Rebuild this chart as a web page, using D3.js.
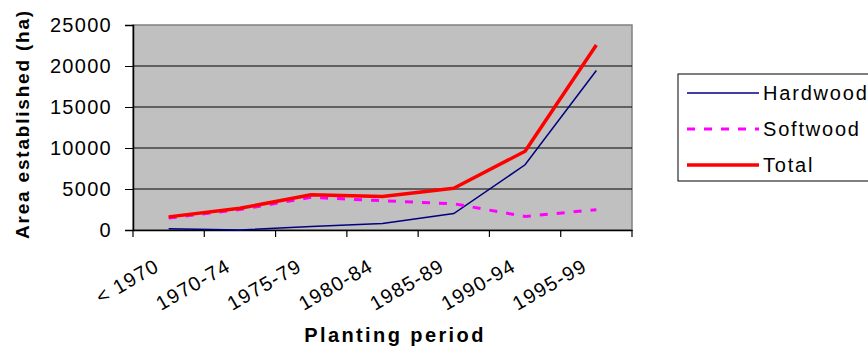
<!DOCTYPE html>
<html>
<head>
<meta charset="utf-8">
<script src="https://cdn.jsdelivr.net/npm/d3@7/dist/d3.min.js"></script>
<style>
html,body{margin:0;padding:0;background:#fff;}
svg{display:block;font-family:"Liberation Sans",Arial,sans-serif;}
</style>
</head>
<body>
<svg id="chart" width="868" height="347"></svg>
<script>
const categories = ["< 1970","1970-74","1975-79","1980-84","1985-89","1990-94","1995-99"];
const hardwood = [160, 0, 440, 800, 2000, 7950, 19450];
const softwood = [1450, 2500, 3980, 3570, 3200, 1650, 2480];
const total = [1600, 2650, 4300, 4080, 5100, 9600, 22550];
const yTicks = [0, 5000, 10000, 15000, 20000, 25000];
const seriesNames = ["Hardwood","Softwood","Total"];

const svg = d3.select("#chart");
const pLeft = 133, pRight = 632, pTop = 25, pBottom = 230;

const x = d3.scaleBand().domain(categories).range([pLeft, pRight]);
const y = d3.scaleLinear().domain([0, 25000]).range([pBottom, pTop]);

svg.append("rect").attr("x", pLeft).attr("y", pTop).attr("width", pRight-pLeft).attr("height", pBottom-pTop)
  .attr("fill", "#c0c0c0").attr("stroke", "#808080").attr("stroke-width", 1.5);

svg.append("g").selectAll("line").data(yTicks.filter(d=>d>0 && d<25000)).join("line")
  .attr("x1", pLeft).attr("x2", pRight).attr("y1", d=>y(d)).attr("y2", d=>y(d))
  .attr("stroke", "#000").attr("stroke-width", 1);

const yAxis = svg.append("g").attr("transform", `translate(${pLeft},0)`)
  .call(d3.axisLeft(y).tickValues(yTicks).tickSize(8).tickPadding(13).tickFormat(d3.format("d")));
yAxis.select(".domain").attr("stroke", "#000").attr("stroke-width", 1.5);
yAxis.selectAll(".tick line").attr("stroke", "#000");
yAxis.selectAll(".tick text").attr("font-size", 20).attr("letter-spacing", 1.3).attr("fill", "#000")
  .attr("font-family", "Liberation Sans, Arial, sans-serif");

const xAxis = svg.append("g").attr("transform", `translate(0,${pBottom})`)
  .call(d3.axisBottom(x).tickSize(0).tickFormat(""));
xAxis.select(".domain").attr("stroke", "#000").attr("stroke-width", 1.5);
const bounds = categories.map(c => x(c)).concat([pRight]);
xAxis.append("g").selectAll("line").data(bounds).join("line")
  .attr("x1", d=>d).attr("x2", d=>d).attr("y1", 0).attr("y2", 7).attr("stroke", "#000").attr("stroke-width", 1.2);
xAxis.append("g").selectAll("text").data(categories).join("text")
  .attr("transform", d => `translate(${x(d)+x.bandwidth()/2-8},${40}) rotate(-30)`)
  .attr("text-anchor", "end").attr("font-size", 20).attr("letter-spacing", 1.2).attr("fill", "#000")
  .text(d => d);

const cx = d => x(d) + x.bandwidth()/2;
const line = d3.line().x((d,i)=>cx(categories[i])).y(d=>y(d));
svg.append("path").datum(hardwood).attr("d", line).attr("fill", "none").attr("stroke", "#000080").attr("stroke-width", 1.5);
svg.append("path").datum(softwood).attr("d", line).attr("fill", "none").attr("stroke", "#ff00ff").attr("stroke-width", 3).attr("stroke-dasharray", "8,9");
svg.append("path").datum(total).attr("d", line).attr("fill", "none").attr("stroke", "#ff0000").attr("stroke-width", 3.5).attr("stroke-linejoin", "round");

svg.append("text").attr("transform", `translate(29,124) rotate(-90)`).attr("text-anchor", "middle")
  .attr("font-size", 19).attr("font-weight", "bold").attr("letter-spacing", 1.8).text("Area established (ha)");
svg.append("text").attr("x", 395).attr("y", 342).attr("text-anchor", "middle")
  .attr("font-size", 20).attr("font-weight", "bold").attr("letter-spacing", 2.4).text("Planting period");

const lg = svg.append("g");
lg.append("rect").attr("x", 678).attr("y", 74).attr("width", 200).attr("height", 107)
  .attr("fill", "#fff").attr("stroke", "#000").attr("stroke-width", 1);
const styles = [
  {stroke:"#000080", w:1.5, dash:null},
  {stroke:"#ff00ff", w:3, dash:"8,9"},
  {stroke:"#ff0000", w:3.5, dash:null}
];
const rowY = [93, 129, 165];
seriesNames.forEach((n,i) => {
  lg.append("line").attr("x1", 687).attr("x2", 759).attr("y1", rowY[i]).attr("y2", rowY[i])
    .attr("stroke", styles[i].stroke).attr("stroke-width", styles[i].w).attr("stroke-dasharray", styles[i].dash);
  lg.append("text").attr("x", 763).attr("y", rowY[i]+7).attr("font-size", 20).attr("letter-spacing", 1.8).text(n);
});
</script>
</body>
</html>
